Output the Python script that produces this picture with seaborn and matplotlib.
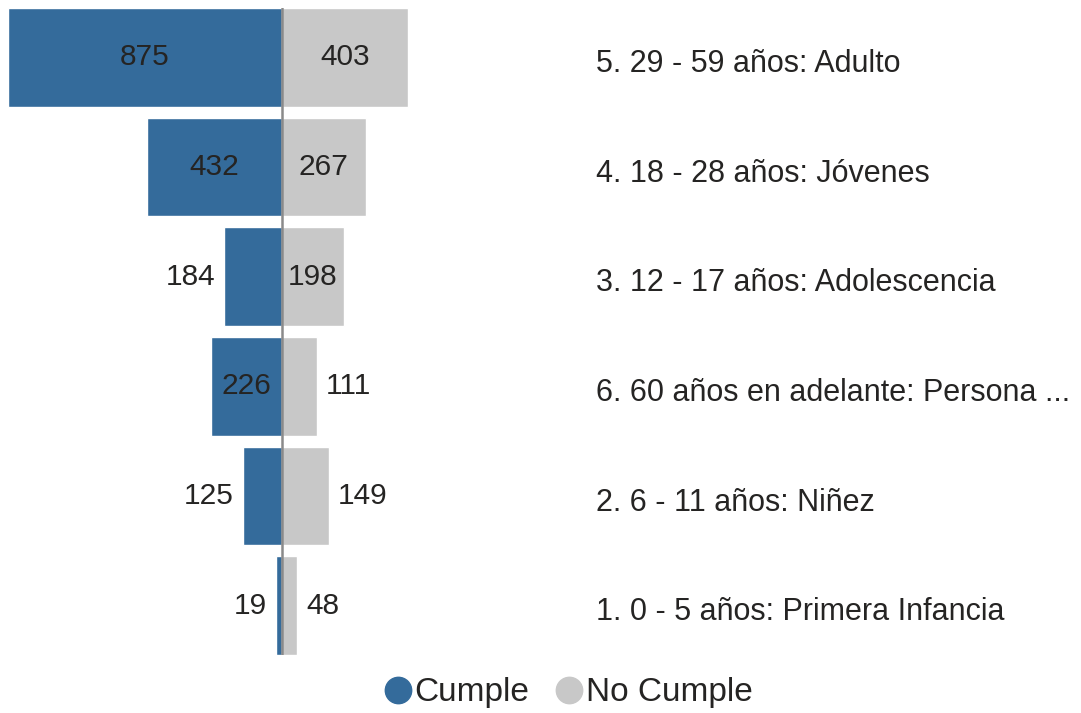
import pandas as pd
import matplotlib.pyplot as plt
from matplotlib.lines import Line2D
import matplotlib.transforms as mtransforms
import seaborn as sns

# Data
groups = [
    "5. 29 - 59 años: Adulto",
    "4. 18 - 28 años: Jóvenes",
    "3. 12 - 17 años: Adolescencia",
    "6. 60 años en adelante: Persona ...",
    "2. 6 - 11 años: Niñez",
    "1. 0 - 5 años: Primera Infancia",
]
cumple = [875, 432, 184, 226, 125, 19]
no_cumple = [403, 267, 198, 111, 149, 48]

BLUE = "#346b9b"
GREY = "#c8c8c8"
TEXT = "#252423"

sns.set_theme(style="white")
plt.rcParams["font.family"] = ["Liberation Sans", "DejaVu Sans"]

df = pd.DataFrame({"grupo": groups, "cumple": cumple, "no_cumple": no_cumple})
df["cumple_neg"] = -df["cumple"]

fig = plt.figure(figsize=(10.81, 7.13), dpi=100)
ax = fig.add_axes([8 / 1081, 58 / 713, 1 - 8 / 1081, 647 / 713])

sns.barplot(data=df, y="grupo", x="cumple_neg", color=BLUE, width=0.9,
            saturation=1, orient="h", ax=ax)
sns.barplot(data=df, y="grupo", x="no_cumple", color=GREY, width=0.9,
            saturation=1, orient="h", ax=ax)

scale = 274 / 875  # px per unit
ax.set_xlim(-875, (1081 - 282) / scale)
ax.set_ylim(len(groups) - 0.55, -0.45)
ax.axvline(0, color="#8a8a8a", lw=1.8, zorder=5)
ax.set_axis_off()

fs_num = 21.5
fs_lab = 22
px = 1 / scale
for i, (c, n) in enumerate(zip(cumple, no_cumple)):
    # Cumple labels: inside if wide enough, else to the left
    if c * scale > 65:
        ax.text(-c / 2, i, str(c), ha="center", va="center", fontsize=fs_num, color=TEXT)
    else:
        ax.text(-c - 9 * px, i, str(c), ha="right", va="center", fontsize=fs_num, color=TEXT)
    if n * scale > 60:
        ax.text(n / 2, i, str(n), ha="center", va="center", fontsize=fs_num, color=TEXT)
    else:
        ax.text(n + 9 * px, i, str(n), ha="left", va="center", fontsize=fs_num, color=TEXT)

trans = mtransforms.blended_transform_factory(fig.transFigure, ax.transData)
for i, g in enumerate(groups):
    ax.text(596 / 1081, i + 0.06, g, transform=trans, ha="left", va="center",
            fontsize=fs_lab, color=TEXT)

handles = [
    Line2D([], [], marker="o", ls="", color=BLUE, markersize=19),
    Line2D([], [], marker="o", ls="", color=GREY, markersize=19),
]
fig.legend(handles, ["Cumple", "No Cumple"], loc="center",
           bbox_to_anchor=(565 / 1081, 1 - 693 / 713), ncol=2, frameon=False,
           fontsize=24, handletextpad=-0.1, columnspacing=0.6, handlelength=1.2,
           labelcolor=TEXT)

fig.savefig("out.png", dpi=100, facecolor="white")
